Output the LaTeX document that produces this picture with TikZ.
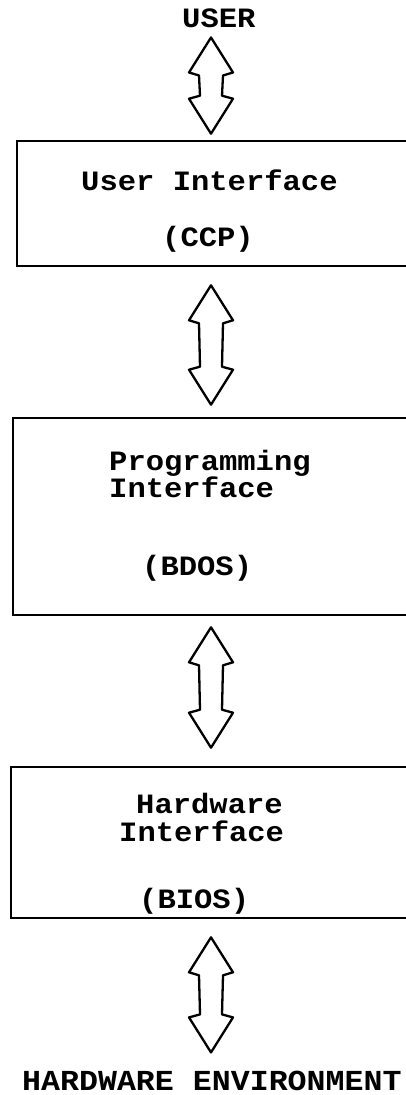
\documentclass[tikz,border=0pt]{standalone}
\usepackage{fontspec}
\usetikzlibrary{calc}
\newfontfamily\tw{Liberation Mono}[FakeStretch=1.09]
\begin{document}
\begin{tikzpicture}[x=1pt,y=-1pt,
  box/.style={draw,line width=2.6pt,rectangle,inner sep=0pt},
  lbl/.style={font=\tw\bfseries\fontsize{28pt}{30pt}\selectfont,inner sep=0pt,anchor=base west},
  dbl/.style={draw,line width=2.3pt,line join=round,to path={
    let \p1=(\tikztostart), \p2=(\tikztotarget) in
    (\x1,\y1) -- (\x1+22pt,\y1-35pt) -- (\x1+12pt,\y1-38pt) -- (\x1+11pt,\y2+38pt)
    -- (\x1+22pt,\y2+35pt) -- (\x2,\y2) -- (\x1-22pt,\y2+35pt) -- (\x1-11pt,\y2+38pt)
    -- (\x1-12pt,\y1-38pt) -- (\x1-22pt,\y1-35pt) -- cycle}}]
\useasboundingbox (0,0) rectangle (406,1095);
\clip (0,0) rectangle (406,1095);
\coordinate (ax) at (211,0);
% boxes
\node[box,minimum width=413pt,minimum height=125pt] (b1) at (223.5,203.5) {};
\node[box,minimum width=417pt,minimum height=197pt] (b2) at (221.5,516.5) {};
\node[box,minimum width=419pt,minimum height=151pt] (b3) at (220.5,842.5) {};
% texts
\node[lbl] (user) at (182,27) {USER};
\node[lbl] (ui) at (81,190) {User Interface};
\node[lbl] (ccp) at (162,246) {(CCP)};
\node[lbl] (prog) at (109,470) {Programming};
\node[lbl] (pi) at (109,497) {Interface};
\node[lbl] (bdos) at (142,575) {(BDOS)};
\node[lbl] (hw) at (136,813) {Hardware};
\node[lbl] (hi) at (119,841) {Interface};
\node[lbl] (bios) at (139,908) {(BIOS)};
\node[lbl,font=\tw\bfseries\fontsize{29pt}{30pt}\selectfont] (env) at (22,1090) {HARDWARE ENVIRONMENT};
% arrows
\draw[dbl] ([yshift=-10pt]user.south -| ax) to ([yshift=6pt]b1.north -| ax);
\draw[dbl] ([yshift=-18pt]b1.south -| ax) to ([yshift=12pt]b2.north -| ax);
\draw[dbl] ([yshift=-11pt]b2.south -| ax) to ([yshift=18pt]b3.north -| ax);
\draw[dbl] ([yshift=-18pt]b3.south -| ax) to ([yshift=18pt]env.north -| ax);
\end{tikzpicture}
\end{document}
